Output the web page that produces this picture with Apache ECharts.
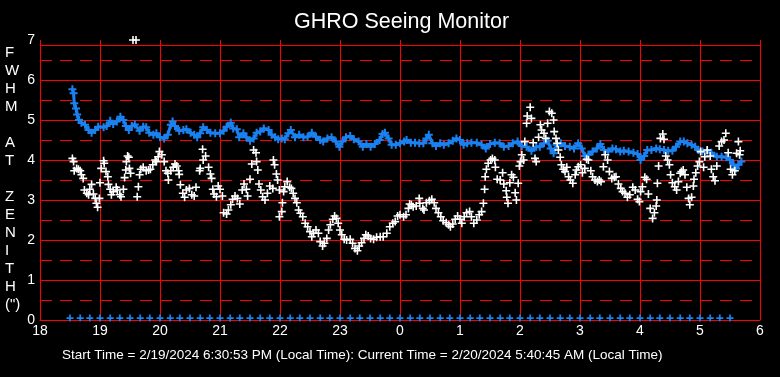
<!DOCTYPE html>
<html>
<head>
<meta charset="utf-8">
<script src="https://cdn.jsdelivr.net/npm/echarts@6/dist/echarts.min.js"></script>
<style>
  html, body { margin: 0; padding: 0; background: #000; }
  #chart { width: 780px; height: 377px; }
</style>
</head>
<body>
<div id="chart"></div>
<script>
// hours since midnight of the start day (24 = midnight, 29.5 = 5:30 AM)
const hourTicks = [18, 19, 20, 21, 22, 23, 24, 25, 26, 27, 28, 29, 30]

// zenith FWHM, blue trace
const blueT = [18.54, 18.56, 18.57, 18.6, 18.62, 18.65, 18.69, 18.75, 18.81, 18.86, 18.92, 18.97, 19.06, 19.11, 19.17, 19.22, 19.28, 19.34, 19.39, 19.43, 19.48, 19.53, 19.58, 19.66, 19.72, 19.77, 19.82, 19.89, 19.94, 20.0, 20.07, 20.13, 20.18, 20.21, 20.25, 20.32, 20.39, 20.44, 20.51, 20.57, 20.62, 20.67, 20.72, 20.78, 20.84, 20.92, 21.0, 21.06, 21.11, 21.18, 21.22, 21.28, 21.32, 21.39, 21.44, 21.5, 21.56, 21.61, 21.67, 21.73, 21.81, 21.86, 21.92, 21.97,
  22.03, 22.08, 22.14, 22.18, 22.25, 22.32, 22.39, 22.46, 22.53, 22.6, 22.67, 22.72, 22.79, 22.86, 22.93, 22.99, 23.04, 23.1, 23.17, 23.23, 23.31, 23.38, 23.44, 23.51, 23.58, 23.66, 23.71, 23.75, 23.81, 23.86, 23.93, 24.0, 24.07, 24.11, 24.18, 24.25, 24.32, 24.39, 24.44, 24.48, 24.54, 24.6, 24.67, 24.73, 24.81, 24.88, 24.94, 25.0, 25.06, 25.12, 25.19, 25.28, 25.36, 25.43, 25.5, 25.58, 25.66, 25.73, 25.81, 25.88, 25.96,
  26.03, 26.11, 26.19, 26.27, 26.33, 26.4, 26.46, 26.51, 26.56, 26.61, 26.68, 26.75, 26.83, 26.9, 26.97, 27.03, 27.08, 27.14, 27.21, 27.28, 27.34, 27.4, 27.47, 27.54, 27.6, 27.67, 27.73, 27.81, 27.89, 27.96, 28.01, 28.07, 28.12, 28.19, 28.27, 28.33, 28.4, 28.47, 28.54, 28.6, 28.67, 28.73, 28.79, 28.86, 28.92, 28.97, 29.04, 29.12, 29.19, 29.28, 29.36, 29.44, 29.5, 29.56, 29.6, 29.64, 29.69]
const blueV = [5.77, 5.67, 5.42, 5.29, 5.14, 5.0, 4.93, 4.88, 4.75, 4.68, 4.75, 4.83, 4.82, 4.85, 4.98, 4.9, 4.96, 5.08, 5.0, 4.85, 4.75, 4.85, 4.89, 4.73, 4.83, 4.82, 4.68, 4.63, 4.67, 4.57, 4.54, 4.63, 4.88, 4.96, 4.85, 4.73, 4.75, 4.77, 4.68, 4.63, 4.57, 4.67, 4.82, 4.75, 4.68, 4.67, 4.67, 4.73, 4.83, 4.93, 4.79, 4.77, 4.57, 4.67, 4.57, 4.48, 4.54, 4.68, 4.71, 4.79, 4.75, 4.63, 4.57, 4.52,
  4.54, 4.52, 4.67, 4.75, 4.57, 4.63, 4.57, 4.58, 4.68, 4.58, 4.5, 4.46, 4.54, 4.57, 4.46, 4.33, 4.46, 4.57, 4.6, 4.52, 4.46, 4.33, 4.4, 4.33, 4.4, 4.5, 4.65, 4.68, 4.54, 4.38, 4.38, 4.42, 4.46, 4.5, 4.43, 4.43, 4.42, 4.42, 4.54, 4.63, 4.42, 4.35, 4.42, 4.38, 4.42, 4.48, 4.54, 4.5, 4.38, 4.42, 4.43, 4.43, 4.38, 4.29, 4.4, 4.43, 4.42, 4.33, 4.35, 4.42, 4.46,
  4.35, 4.33, 4.23, 4.33, 4.33, 4.42, 4.48, 4.29, 4.17, 4.38, 4.42, 4.35, 4.33, 4.29, 4.42, 4.29, 4.1, 4.13, 4.21, 4.29, 4.4, 4.25, 4.21, 4.29, 4.27, 4.21, 4.23, 4.21, 4.18, 4.15, 4.0, 4.1, 4.25, 4.25, 4.29, 4.27, 4.25, 4.23, 4.23, 4.33, 4.46, 4.46, 4.42, 4.38, 4.33, 4.25, 4.21, 4.23, 4.18, 4.08, 4.08, 4.07, 4.0, 3.88, 3.79, 3.88, 3.96]

// zenith FWHM, white points
const whiteT = [18.54, 18.56, 18.57, 18.61, 18.64, 18.67, 18.69, 18.72, 18.74, 18.78, 18.81, 18.83, 18.86, 18.89, 18.92, 18.94, 18.96, 18.99, 19.0, 19.02, 19.06, 19.07, 19.1, 19.13, 19.14, 19.17, 19.19, 19.22, 19.27, 19.29, 19.33, 19.35, 19.39, 19.41, 19.43, 19.44, 19.46, 19.48, 19.49, 19.51, 19.55, 19.6, 19.62, 19.64, 19.66, 19.68, 19.72, 19.77, 19.81, 19.84, 19.88, 19.92, 19.94, 19.97, 19.99,
  20.03, 20.07, 20.1, 20.13, 20.14, 20.18, 20.22, 20.25, 20.28, 20.31, 20.32, 20.34, 20.38, 20.41, 20.44, 20.49, 20.53, 20.57, 20.6, 20.66, 20.67, 20.71, 20.72, 20.76, 20.81, 20.84, 20.86, 20.88, 20.9, 20.94, 20.97, 21.0, 21.04, 21.06, 21.11, 21.14, 21.18, 21.21, 21.25, 21.29, 21.33, 21.37, 21.4, 21.44, 21.46, 21.5, 21.53, 21.56, 21.6, 21.61, 21.63, 21.65, 21.68, 21.71, 21.75, 21.79, 21.83, 21.88, 21.89, 21.91, 21.94, 21.96, 21.99, 21.99,
  22.03, 22.04, 22.06, 22.08, 22.12, 22.16, 22.19, 22.22, 22.25, 22.28, 22.31, 22.34, 22.38, 22.42, 22.46, 22.5, 22.53, 22.56, 22.6, 22.64, 22.67, 22.71, 22.74, 22.78, 22.81, 22.84, 22.88, 22.91, 22.94, 22.97, 23.0, 23.03, 23.07, 23.11, 23.17, 23.21, 23.25, 23.29, 23.32, 23.36, 23.4, 23.43, 23.47, 23.51, 23.56, 23.61, 23.67, 23.72, 23.78, 23.83, 23.88, 23.92, 23.96,
  24.0, 24.06, 24.1, 24.14, 24.16, 24.19, 24.22, 24.27, 24.32, 24.33, 24.38, 24.4, 24.44, 24.49, 24.53, 24.57, 24.6, 24.64, 24.68, 24.72, 24.77, 24.81, 24.84, 24.88, 24.92, 24.96, 25.0, 25.03, 25.07, 25.11, 25.16, 25.19, 25.23, 25.28, 25.32, 25.36, 25.39, 25.41, 25.42, 25.44, 25.47, 25.51, 25.54, 25.58, 25.59, 25.62, 25.67, 25.71, 25.73, 25.77, 25.78, 25.8, 25.83, 25.86, 25.89, 25.92, 25.94, 25.97, 25.99,
  26.01, 26.03, 26.06, 26.08, 26.11, 26.12, 26.17, 26.19, 26.22, 26.25, 26.27, 26.31, 26.34, 26.36, 26.4, 26.43, 26.46, 26.49, 26.53, 26.56, 26.57, 26.6, 26.62, 26.64, 26.67, 26.69, 26.72, 26.75, 26.78, 26.81, 26.84, 26.88, 26.92, 26.94, 26.97, 27.01, 27.04, 27.08, 27.11, 27.14, 27.18, 27.21, 27.25, 27.29, 27.32, 27.35, 27.39, 27.42, 27.46, 27.49, 27.53, 27.57, 27.6, 27.64, 27.68, 27.71, 27.75, 27.79, 27.83, 27.88, 27.92, 27.96, 27.99,
  28.01, 28.04, 28.08, 28.11, 28.14, 28.17, 28.21, 28.24, 28.27, 28.28, 28.29, 28.31, 28.34, 28.38, 28.4, 28.43, 28.46, 28.49, 28.51, 28.54, 28.58, 28.61, 28.64, 28.67, 28.69, 28.72, 28.75, 28.78, 28.81, 28.83, 28.86, 28.89, 28.9, 28.93, 28.96, 28.99, 29.01, 29.06, 29.08, 29.12, 29.17, 29.19, 29.22, 29.25, 29.28, 29.32, 29.36, 29.4, 29.43, 29.47, 29.51, 29.54, 29.58, 29.61, 29.64, 29.66, 29.67]
const whiteV = [4.04, 3.96, 3.73, 3.79, 3.77, 3.73, 3.63, 3.54, 3.25, 3.17, 3.13, 3.27, 3.39, 3.15, 3.04, 2.92, 2.82, 3.04, 3.43, 3.79, 3.98, 3.92, 3.71, 3.58, 3.39, 3.27, 3.13, 3.21, 3.32, 3.25, 3.13, 3.08, 3.27, 3.56, 3.75, 3.96, 4.1, 4.07, 3.79, 3.67, 7.0, 7.0, 3.08, 3.33, 3.63, 3.77, 3.82, 3.73, 3.75, 3.77, 3.88, 4.0, 3.96, 4.08, 4.21,
  4.13, 3.96, 3.73, 3.67, 3.5, 3.73, 3.82, 3.9, 3.85, 3.73, 3.64, 3.38, 3.17, 3.07, 3.25, 3.29, 3.13, 3.1, 3.32, 3.73, 3.79, 4.27, 4.0, 4.1, 3.82, 3.65, 3.54, 3.27, 3.15, 3.08, 3.35, 3.27, 3.1, 2.68, 2.65, 2.75, 2.88, 3.02, 3.1, 3.04, 2.9, 3.25, 3.4, 3.27, 3.1, 3.52, 3.9, 4.25, 4.18, 3.96, 3.75, 3.4, 3.25, 3.08, 3.0, 3.17, 3.35, 3.29, 4.0, 3.88, 3.65, 3.5, 3.25, 2.58,
  2.71, 2.93, 3.21, 3.33, 3.46, 3.32, 3.29, 3.17, 3.04, 2.93, 2.75, 2.67, 2.58, 2.42, 2.33, 2.21, 2.08, 2.17, 2.25, 2.17, 1.96, 1.85, 1.92, 2.04, 2.25, 2.38, 2.52, 2.6, 2.54, 2.42, 2.25, 2.13, 2.02, 2.0, 2.02, 1.92, 1.79, 1.73, 1.85, 1.93, 2.04, 2.13, 2.1, 2.04, 2.02, 2.07, 2.08, 2.08, 2.17, 2.33, 2.42, 2.46, 2.6,
  2.63, 2.58, 2.63, 2.79, 2.9, 2.88, 2.83, 2.85, 3.04, 2.92, 2.79, 2.75, 2.93, 2.98, 3.02, 2.93, 2.79, 2.68, 2.58, 2.48, 2.43, 2.38, 2.33, 2.4, 2.52, 2.6, 2.52, 2.42, 2.58, 2.68, 2.71, 2.58, 2.42, 2.5, 2.63, 2.71, 2.92, 3.27, 3.58, 3.77, 3.92, 4.0, 4.04, 4.0, 3.82, 3.52, 3.5, 3.68, 3.4, 3.23, 3.07, 2.92, 3.43, 3.63, 3.57, 3.18, 3.0, 3.42, 3.85,
  3.96, 4.13, 4.0, 4.46, 4.92, 5.1, 5.32, 5.04, 4.43, 4.04, 3.96, 4.57, 4.88, 4.75, 4.67, 4.54, 4.92, 5.21, 5.17, 5.0, 4.71, 4.54, 4.42, 4.25, 4.07, 3.88, 3.77, 3.71, 3.82, 3.58, 3.5, 3.42, 3.63, 3.75, 3.83, 3.88, 3.68, 3.79, 4.02, 4.0, 3.73, 3.58, 3.5, 3.46, 3.5, 3.46, 3.83, 4.13, 4.0, 3.71, 3.54, 3.57, 3.58, 3.4, 3.29, 3.21, 3.17, 3.07, 3.13, 3.32, 3.25, 3.02, 2.96,
  3.21, 3.33, 3.57, 3.52, 3.15, 2.79, 2.54, 2.68, 2.85, 3.0, 3.42, 3.85, 4.54, 4.65, 4.52, 4.1, 4.0, 3.88, 3.63, 3.43, 3.33, 3.25, 3.46, 3.67, 3.71, 3.75, 3.63, 3.32, 3.04, 2.88, 3.07, 3.35, 3.52, 3.68, 3.85, 3.96, 4.21, 3.82, 4.08, 4.25, 4.1, 3.77, 3.58, 3.48, 3.85, 4.35, 4.46, 4.5, 4.67, 4.18, 3.77, 3.63, 3.73, 4.17, 4.46, 4.13, 4.23]

// zero readings along the bottom, every 10 minutes
const zeroT = [18.5, 18.67, 18.83, 19.0, 19.17, 19.33, 19.5, 19.67, 19.83, 20.0, 20.17, 20.33, 20.5, 20.67, 20.83, 21.0, 21.17, 21.33, 21.5, 21.67, 21.83, 22.0, 22.17, 22.33, 22.5, 22.67, 22.83, 23.0, 23.17, 23.33, 23.5, 23.67, 23.83, 24.0, 24.17, 24.33, 24.5, 24.67, 24.83, 25.0, 25.17, 25.33, 25.5, 25.67, 25.83, 26.0, 26.17, 26.33, 26.5, 26.67, 26.83, 27.0, 27.17, 27.33, 27.5, 27.67, 27.83, 28.0, 28.17, 28.33, 28.5, 28.67, 28.83, 29.0, 29.17, 29.33, 29.5]
const zeroV = [0.05, 0.05, 0.05, 0.05, 0.05, 0.05, 0.05, 0.05, 0.05, 0.05, 0.05, 0.05, 0.05, 0.05, 0.05, 0.05, 0.05, 0.05, 0.05, 0.05, 0.05, 0.05, 0.05, 0.05, 0.05, 0.05, 0.05, 0.05, 0.05, 0.05, 0.05, 0.05, 0.05, 0.05, 0.05, 0.05, 0.05, 0.05, 0.05, 0.05, 0.05, 0.05, 0.05, 0.05, 0.05, 0.05, 0.05, 0.05, 0.05, 0.05, 0.05, 0.05, 0.05, 0.05, 0.05, 0.05, 0.05, 0.05, 0.05, 0.05, 0.05, 0.05, 0.05, 0.05, 0.05, 0.05, 0.05]

const plus = 'path://M0,3.2H8V4.8H0Z M3.2,0H4.8V8H3.2Z'
const plusBold = 'path://M0,3H8V5H0Z M3,0H5V8H3Z'
const RED = '#ff0000'
const BLUE = '#1a82f0'
const FONT = '"Liberation Sans", Arial, sans-serif'

const zip = (a, b) => a.map((v, i) => [v, b[i]])

const chart = echarts.init(document.getElementById('chart'))
const option = {
  backgroundColor: '#000',
  animation: false,
  title: {
    text: 'GHRO Seeing Monitor',
    left: 289,
    top: 6,
    textStyle: { color: '#fff', fontFamily: FONT, fontSize: 21.5, fontWeight: 'normal' }
  },
  graphic: [
    {
      type: 'text',
      left: 5,
      top: 44,
      style: {
        text: 'F\nW\nH\nM\n\nA\nT\n\nZ\nE\nN\nI\nT\nH\n(")',
        fill: '#fff',
        font: '15px ' + FONT,
        lineHeight: 18,
        align: 'center',
        width: 14
      }
    },
    {
      type: 'text',
      left: 62,
      top: 348,
      style: {
        text: 'Start Time = 2/19/2024 6:30:53 PM (Local Time): Current Time = 2/20/2024 5:40:45 AM (Local Time)',
        fill: '#fff',
        font: '13.5px ' + FONT
      }
    },
    {
      // top border of the plot, which sits below the "7" label
      type: 'rect',
      left: 40,
      top: 45,
      shape: { width: 721, height: 1 },
      style: { fill: RED },
      z: 100
    }
  ],
  grid: { left: 40, right: 20, top: 40, bottom: 57 },
  xAxis: {
    type: 'value',
    min: hourTicks[0],
    max: hourTicks[hourTicks.length - 1],
    interval: 1,
    axisLine: { lineStyle: { color: RED, width: 1 } },
    axisTick: { show: false },
    axisLabel: {
      color: '#fff',
      fontFamily: FONT,
      fontSize: 14,
      margin: 4,
      formatter: v => String(v % 24)
    },
    splitLine: { show: true, lineStyle: { color: RED, width: 1 } }
  },
  yAxis: [
    {
      type: 'value',
      min: 0,
      max: 7,
      interval: 1,
      axisLine: { show: false },
      axisTick: { show: false },
      axisLabel: { color: '#fff', fontFamily: FONT, fontSize: 14, margin: 5 },
      splitLine: { show: true, showMaxLine: false, lineStyle: { color: RED, width: 1 } }
    },
    {
      type: 'value',
      min: 0,
      max: 7,
      interval: 0.5,
      position: 'left',
      axisLine: { show: false },
      axisTick: { show: false },
      axisLabel: { show: false },
      splitLine: {
        show: true,
        showMaxLine: false,
        lineStyle: { color: RED, width: 1, type: [12, 8] }
      }
    }
  ],
  series: [
    {
      name: 'fwhm',
      type: 'line',
      data: zip(blueT, blueV),
      symbol: plusBold,
      symbolSize: 8,
      showAllSymbol: true,
      lineStyle: { color: BLUE, width: 3 },
      itemStyle: { color: BLUE, opacity: 1 },
      z: 3
    },
    {
      name: 'points',
      type: 'scatter',
      data: zip(whiteT, whiteV),
      symbol: plus,
      symbolSize: 8,
      clip: false,
      itemStyle: { color: '#fff', opacity: 1 },
      z: 4
    },
    {
      name: 'zero',
      type: 'scatter',
      data: zip(zeroT, zeroV),
      symbol: plusBold,
      symbolSize: 7,
      itemStyle: { color: BLUE, opacity: 1 },
      z: 3
    }
  ]
}
chart.setOption(option)
window.addEventListener('resize', () => {
  chart.resize()
})
</script>
</body>
</html>
